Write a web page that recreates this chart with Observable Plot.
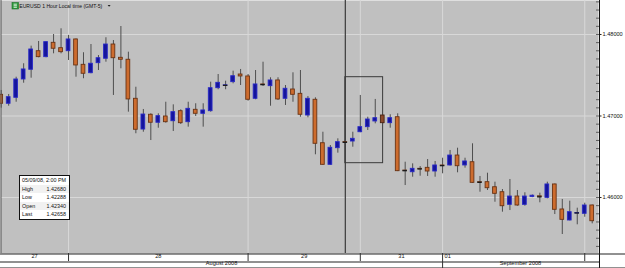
<!DOCTYPE html>
<html><head><meta charset="utf-8">
<script src="https://cdn.jsdelivr.net/npm/d3@7"></script>
<script src="https://cdn.jsdelivr.net/npm/@observablehq/plot@0.6"></script>
<style>
html,body{margin:0;padding:0;background:#fff;}
#wrap{position:relative;width:625px;height:268px;overflow:hidden;font-family:"Liberation Sans",Arial,sans-serif;}
#wrap svg{display:block;}
#title{position:absolute;left:0;top:0;}
#info{position:absolute;left:19px;top:175px;width:49px;height:43px;background:#fff;border:1.2px solid #111;font-size:5.4px;color:#111;box-sizing:content-box;white-space:nowrap;overflow:hidden;}
#info .r{height:8.6px;line-height:8.6px;display:flex;justify-content:space-between;padding:0 3px 0 2px;white-space:nowrap;}
#info .r.alt{background:#f1f1f1;}
</style></head><body><div id="wrap"></div><script>
// ---- data ----
const opens  = [1.47260,1.47150,1.47223,1.47448,1.47567,1.47795,1.47722,1.47898,1.47832,1.47795,
                1.47939,1.47628,1.47525,1.47648,1.47702,1.47877,1.47714,1.47690,1.47211,1.46834,
                1.47015,1.46917,1.46994,1.46936,1.47059,1.46924,1.47076,1.47027,1.47059,1.47341,
                1.47374,1.47415,1.47509,1.47485,1.47211,1.47387,1.47366,1.47436,1.47211,1.47325,
                1.47272,1.47006,1.47199,1.46666,1.46401,1.46605,1.46679,1.46687,1.46801,1.46863,
                1.46933,1.47006,1.46912,1.46985,1.46331,1.46310,1.46352,1.46364,1.46319,1.46393,
                1.46393,1.46515,1.46393,1.46433,1.46188,1.46188,1.46126,1.46065,1.45910,1.46012,
                1.45910,1.46006,1.46015,1.45996,1.46160,1.45853,1.45718,1.45805,1.45800,1.45902];
const highs  = [1.47313,1.47264,1.47476,1.47641,1.47857,1.47914,1.47910,1.48000,1.48070,1.47988,
                1.47945,1.47776,1.47877,1.47742,1.47960,1.47926,1.48098,1.47783,1.47353,1.47080,
                1.47027,1.47027,1.47169,1.47137,1.47076,1.47169,1.47150,1.47150,1.47415,1.47509,
                1.47427,1.47550,1.47571,1.47509,1.47558,1.47660,1.47469,1.47469,1.47374,1.47530,
                1.47558,1.47239,1.47223,1.46801,1.46638,1.46720,1.46700,1.46801,1.47252,1.46985,
                1.47203,1.47012,1.47015,1.47027,1.46433,1.46413,1.46380,1.46466,1.46442,1.46482,
                1.46577,1.46605,1.46482,1.46659,1.46258,1.46298,1.46188,1.46098,1.46221,1.46086,
                1.46058,1.46031,1.46053,1.46188,1.46165,1.45976,1.45955,1.45869,1.45930,1.45908];
const lows   = [1.47096,1.47120,1.47169,1.47402,1.47464,1.47714,1.47714,1.47763,1.47763,1.47681,
                1.47476,1.47457,1.47518,1.47558,1.47660,1.47252,1.47579,1.47047,1.46782,1.46801,
                1.46699,1.46850,1.46912,1.46810,1.46896,1.46863,1.46994,1.46863,1.47047,1.47322,
                1.47322,1.47395,1.47374,1.47182,1.47199,1.47362,1.47120,1.47190,1.47129,1.47169,
                1.46985,1.46978,1.46524,1.46395,1.46395,1.46544,1.46660,1.46617,1.46795,1.46822,
                1.46904,1.46902,1.46850,1.46318,1.46147,1.46249,1.46261,1.46258,1.46249,1.46291,
                1.46385,1.46303,1.46360,1.46175,1.46065,1.46086,1.45942,1.45820,1.45840,1.45893,
                1.45893,1.45998,1.45935,1.45984,1.45791,1.45546,1.45713,1.45665,1.45758,1.45677];
const closes = [1.47150,1.47231,1.47448,1.47571,1.47816,1.47722,1.47906,1.47825,1.47783,1.47939,
                1.47620,1.47518,1.47641,1.47709,1.47877,1.47709,1.47690,1.47203,1.46831,1.47018,
                1.46917,1.46998,1.46924,1.47047,1.46912,1.47088,1.47027,1.47068,1.47341,1.47407,
                1.47376,1.47488,1.47485,1.47199,1.47387,1.47385,1.47436,1.47203,1.47334,1.47260,
                1.47015,1.47211,1.46659,1.46401,1.46610,1.46679,1.46677,1.46720,1.46863,1.46957,
                1.46973,1.46912,1.46973,1.46323,1.46329,1.46352,1.46350,1.46319,1.46393,1.46391,
                1.46515,1.46384,1.46442,1.46180,1.46186,1.46114,1.46045,1.45893,1.46012,1.45902,
                1.46012,1.46022,1.46008,1.46160,1.45849,1.45726,1.45820,1.45810,1.45902,1.45709];
const yTicks = [1.46, 1.47, 1.48];
const dayLabels = ["27", "28", "29", "31", "01"];
const dayStartIdx = [9, 33, 48, 59, 78];      // bar index where a new day starts
const monthLabels = ["August 2008", "September 2008"];
const monthStartIdx = 59;                      // first bar of September
const cursorIdx = 46;
const selectedIdx = 51;
const boxIdx = [46, 51.05];
const boxPrice = [1.47476, 1.46421];
const titleText = "EURUSD 1 Hour Local time (GMT-5)";
const infoHeader = "05/09/08, 2:00 PM";
const infoLabels = ["High", "Low", "Open", "Last"];
const infoValues = ["1.42680", "1.42288", "1.42340", "1.42658"];

// ---- build ----
const W = 625, H = 268, mL = 0, mR = 27, mT = 0, mB = 15;
const xDomain = [-0.094, 79.84];
const yDomain = [1.45313, 1.48417];
const candles = opens.map((o, i) => ({i, open: o, high: highs[i], low: lows[i], close: closes[i]}));
const dojis = candles.filter(d => Math.abs(d.close - d.open) < 0.00008);
const minor = d3.range(1454, 1485).map(v => v / 1000);
const bounds = [xDomain[0], ...dayStartIdx, xDomain[1]];
const days = dayLabels.map((label, k) => ({label, a: bounds[k], b: bounds[k + 1]}));
const months = [{label: monthLabels[0], a: xDomain[0], b: monthStartIdx}, {label: monthLabels[1], a: monthStartIdx, b: xDomain[1]}];

const upFill = "#15159c", upStroke = "#2a2ac8", dnFill = "#cd6c2e", dnStroke = "#6a3314";

const chart = Plot.plot({
  width: W, height: H, marginLeft: mL, marginRight: mR, marginTop: mT, marginBottom: mB,
  x: {domain: xDomain, axis: null},
  y: {domain: yDomain, axis: null},
  style: {fontFamily: "'Liberation Sans', Arial, sans-serif", fontSize: "6px", background: "#fff", overflow: "visible"},
  marks: [
    Plot.frame({fill: "#c0c0c0", stroke: null}),
    Plot.ruleY(yTicks, {stroke: "#d8d8d8", strokeWidth: 1}),
    Plot.ruleX(dayStartIdx, {stroke: "#d8d8d8", strokeWidth: 1}),
    Plot.ruleX([cursorIdx], {stroke: "#454545", strokeWidth: 1.3}),
    Plot.rect([0], {x1: () => boxIdx[0], x2: () => boxIdx[1], y1: () => boxPrice[0], y2: () => boxPrice[1], fill: "none", stroke: "#3a3a3a", strokeWidth: 1}),
    Plot.ruleX(candles, {x: "i", y1: "low", y2: "high", stroke: "#4e4e4e", strokeWidth: 1}),
    Plot.rect(candles, {
      x1: d => d.i - 0.25, x2: d => d.i + 0.25, y1: "open", y2: "close",
      fill: d => d.i === selectedIdx ? "#8e4b2c" : (d.close >= d.open ? upFill : dnFill),
      stroke: d => d.i === selectedIdx ? "#4a2414" : (d.close >= d.open ? upStroke : dnStroke),
      strokeWidth: 0.9
    }),
    Plot.ruleY(dojis, {y: "close", x1: d => d.i - 0.3, x2: d => d.i + 0.3, stroke: "#1a1a1a", strokeWidth: 1.3}),
    // right axis
    Plot.ruleY(minor, {insetLeft: 596, insetRight: -1, stroke: "#444", strokeWidth: 0.8}),
    Plot.axisY(yTicks, {anchor: "right", tickFormat: d => d.toFixed(5), tickSize: 2.5, tickPadding: 1.5, fontSize: 5.6, stroke: "#222", fill: "#111"}),
    Plot.ruleX([xDomain[1]], {dx: 1, insetBottom: -15, stroke: "#111", strokeWidth: 1}),
    Plot.ruleX([xDomain[0]], {dx: 0.5, stroke: "#555", strokeWidth: 1}),
    // bottom time axis
    Plot.ruleY([yDomain[0]], {insetRight: -27, stroke: "#222", strokeWidth: 1, dy: 0.5}),
    Plot.ruleY([yDomain[0]], {insetRight: -1, stroke: "#222", strokeWidth: 1, dy: 8.5}),
    Plot.ruleY([yDomain[0]], {insetRight: -27, stroke: "#222", strokeWidth: 1, dy: 14.5}),
    Plot.ruleX(dayStartIdx, {insetTop: 253, insetBottom: -8, stroke: "#333", strokeWidth: 1}),
    Plot.ruleX([monthStartIdx], {insetTop: 261, insetBottom: -15, stroke: "#333", strokeWidth: 1}),
    Plot.text(days.slice(0, 4), {x: d => (d.a + d.b) / 2, text: "label", frameAnchor: "bottom", dy: 4.8, fontSize: 5.6, fill: "#111"}),
    Plot.text(days.slice(4), {x: d => d.a, text: "label", frameAnchor: "bottom", dy: 4.8, dx: 2, textAnchor: "start", fontSize: 5.6, fill: "#111"}),
    Plot.text(months, {x: d => (d.a + d.b) / 2, text: "label", frameAnchor: "bottom", dy: 11.8, fontSize: 5.6, fill: "#111"})
  ]
});
const wrap = document.getElementById("wrap");
wrap.appendChild(chart);

// title overlay
const ns = "http://www.w3.org/2000/svg";
const t = document.createElementNS(ns, "svg");
t.setAttribute("id", "title"); t.setAttribute("width", "130"); t.setAttribute("height", "11");
t.innerHTML = `<rect x="12" y="2.5" width="6.5" height="6.5" fill="#2f9a3c" stroke="#1d6e28" stroke-width="0.6"/>
<path d="M13.6 4.2h3.3M13.6 5.75h3.3M13.6 7.3h3.3" stroke="#fff" stroke-width="0.8"/>
<text x="19.3" y="8.3" font-size="6.2" font-family="'Liberation Sans',Arial,sans-serif" fill="#111" textLength="83" lengthAdjust="spacingAndGlyphs"></text>
<path d="M107.6 5.1h3l-1.5 1.7z" fill="#222"/>`;
t.querySelector("text").textContent = titleText;
wrap.appendChild(t);

// info box overlay
const info = document.createElement("div");
info.id = "info";
let html = `<div class="r"><span>${infoHeader}</span></div>`;
infoLabels.forEach((l, k) => { html += `<div class="r${k % 2 === 0 ? " alt" : ""}"><span>${l}</span><span>${infoValues[k]}</span></div>`; });
info.innerHTML = html;
wrap.appendChild(info);
</script></body></html>
